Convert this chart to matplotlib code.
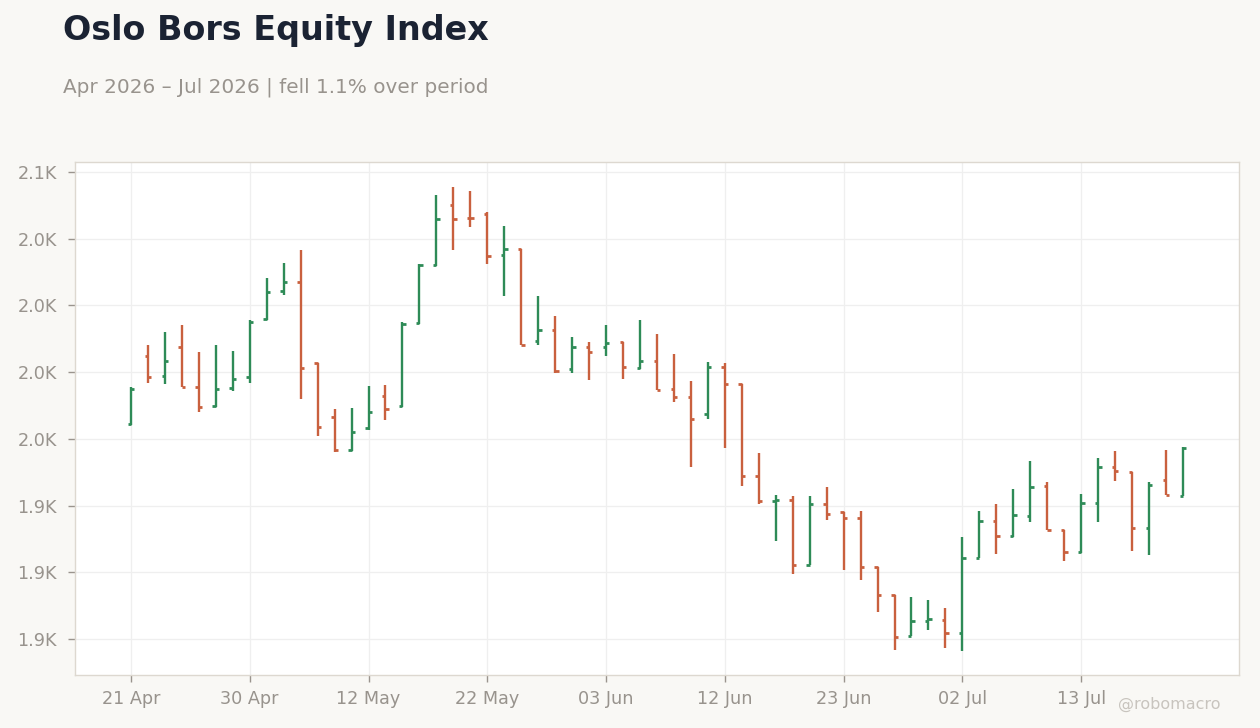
import matplotlib
matplotlib.use("Agg")
import matplotlib.pyplot as plt
from matplotlib.ticker import FuncFormatter, FixedLocator
from decimal import Decimal, ROUND_HALF_UP
import pandas as pd

# trading days (Oslo holidays removed)
holidays = ["2026-05-01", "2026-05-14", "2026-05-25"]
dates = [d for d in pd.bdate_range("2026-04-21", "2026-07-21") if d.strftime("%Y-%m-%d") not in holidays]

opens = [1955.5, 1981.2, 1973.4, 1984.6, 1969.6, 1962.2, 1968.9, 1973.0, 1995.0, 2005.5,
         2008.8, 1978.4, 1958.1, 1945.8, 1954.0, 1965.9, 1962.2, 1993.4, 2015.2, 2037.6,
         2032.9, 2034.2, 2018.9, 2021.0, 1986.8, 1990.9, 1976.0, 1984.6, 1984.6, 1986.4,
         1976.7, 1979.3, 1968.5, 1965.5, 1959.2, 1977.1, 1970.5, 1936.1, 1926.7, 1927.1,
         1902.8, 1925.6, 1922.4, 1920.4, 1902.1, 1891.5, 1876.2, 1881.8, 1882.2, 1877.1,
         1905.3, 1919.2, 1913.6, 1921.0, 1932.2, 1915.8, 1907.6, 1926.0, 1939.4, 1937.6,
         1916.7, 1934.6, 1928.5]
highs = [1969.5, 1985.1, 1989.9, 1992.5, 1982.5, 1985.1, 1982.8, 1994.4, 2010.1, 2016.0,
         2020.7, 1978.4, 1961.2, 1961.6, 1969.9, 1970.1, 1993.7, 2015.7, 2041.2, 2044.5,
         2043.0, 2035.1, 2029.6, 2021.0, 2003.7, 1995.9, 1988.2, 1986.2, 1992.7, 1986.4,
         1994.5, 1989.3, 1981.8, 1971.8, 1978.7, 1978.4, 1970.5, 1944.8, 1929.1, 1928.5,
         1928.5, 1931.8, 1922.4, 1922.9, 1902.1, 1891.5, 1890.7, 1889.5, 1886.6, 1913.4,
         1923.1, 1925.7, 1931.3, 1941.8, 1934.0, 1915.9, 1929.5, 1942.9, 1945.6, 1937.6,
         1934.0, 1946.0, 1947.0]
lows = [1955.2, 1970.8, 1970.4, 1969.5, 1959.9, 1962.1, 1967.8, 1971.1, 1994.7, 2004.0,
        1964.8, 1951.0, 1945.1, 1945.4, 1953.4, 1957.1, 1961.9, 1992.9, 2014.9, 2020.8,
        2029.4, 2015.5, 2003.6, 1985.2, 1985.3, 1974.6, 1974.5, 1971.9, 1981.2, 1972.3,
        1976.0, 1968.3, 1963.7, 1939.4, 1957.3, 1946.5, 1932.3, 1925.7, 1911.8, 1899.5,
        1902.7, 1919.6, 1901.0, 1897.2, 1885.2, 1870.8, 1876.0, 1878.5, 1871.8, 1870.6,
        1905.2, 1906.8, 1913.3, 1918.8, 1915.8, 1904.4, 1907.2, 1918.9, 1934.2, 1908.1,
        1906.6, 1929.0, 1928.5]
closes = [1968.5, 1973.0, 1979.0, 1969.6, 1961.8, 1968.5, 1972.3, 1993.9, 2005.1, 2008.8,
          1976.7, 1954.3, 1945.8, 1952.5, 1959.9, 1961.1, 1993.2, 2015.2, 2032.2, 2032.2,
          2032.6, 2018.4, 2021.0, 1985.2, 1990.9, 1975.5, 1984.6, 1982.7, 1986.1, 1977.1,
          1979.0, 1968.4, 1965.5, 1957.3, 1977.1, 1970.4, 1936.1, 1926.7, 1927.1, 1902.8,
          1925.6, 1921.9, 1920.4, 1902.1, 1891.5, 1875.9, 1881.8, 1882.3, 1877.1, 1905.3,
          1919.2, 1913.6, 1921.4, 1931.8, 1915.8, 1907.7, 1926.0, 1939.4, 1937.9, 1916.7,
          1932.7, 1929.0, 1946.4]

yticks = [1875, 1900, 1925, 1950, 1975, 2000, 2025, 2050]

up_color = "#2e8b57"
down_color = "#c9603e"
bg = "#f9f8f5"
text_grey = "#98938d"


def k_fmt(v, pos):
    d = (Decimal(str(v)) / 1000).quantize(Decimal("0.1"), rounding=ROUND_HALF_UP)
    return f"{d}K"


fig = plt.figure(figsize=(12.6, 7.28), dpi=100, facecolor=bg)
ax = fig.add_axes([0.0595, 0.0728, 0.9238, 0.7047])
ax.set_facecolor("white")

xs = list(range(len(dates)))
for i in xs:
    c = up_color if closes[i] > opens[i] else down_color
    ax.vlines(i, lows[i], highs[i], color=c, linewidth=1.7)
    ax.hlines(opens[i], i - 0.2, i, color=c, linewidth=2)
    ax.hlines(closes[i], i, i + 0.2, color=c, linewidth=2)

ax.set_xlim(-3.3, len(dates) - 1 + 3.3)
ax.set_ylim(1861.5, 2053.75)

xt = xs[::7]
ax.xaxis.set_major_locator(FixedLocator(xt))
ax.set_xticklabels([dates[i].strftime("%d %b") for i in xt])
ax.yaxis.set_major_locator(FixedLocator(yticks))
ax.yaxis.set_major_formatter(FuncFormatter(k_fmt))

ax.grid(True, color="#efefef", linewidth=0.9)
ax.set_axisbelow(True)
for s in ax.spines.values():
    s.set_color("#ddd8d0")
    s.set_linewidth(1)
ax.tick_params(axis="both", colors="#9a948e", labelcolor=text_grey, labelsize=12.7, length=5, width=1)
ax.tick_params(axis="y", pad=8)
ax.tick_params(axis="x", pad=6)

fig.text(0.05, 0.945, "Oslo Bors Equity Index", fontsize=24, fontweight="bold", color="#1b2333", va="baseline")
fig.text(0.05, 0.873, "Apr 2026 \u2013 Jul 2026 | fell 1.1% over period", fontsize=14.4, color=text_grey, va="baseline")
fig.text(0.969, 0.026, "@robomacro", fontsize=11.5, color="#c8c4be", ha="right", va="baseline")

fig.savefig("out.png", dpi=100, facecolor=bg)
